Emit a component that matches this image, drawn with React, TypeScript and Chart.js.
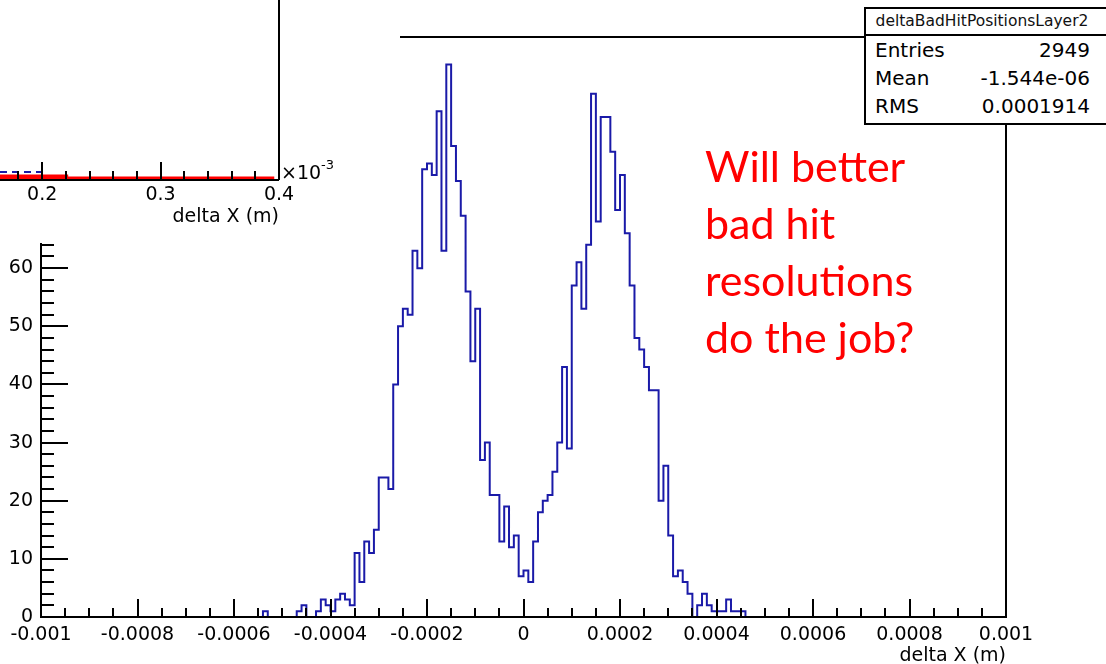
import React, { useEffect, useRef } from 'react';
import { Chart, registerables } from 'chart.js';

Chart.register(...registerables);

const FONT = "'DejaVu Sans', sans-serif";
const HIST_COLOR = '#1a1aa8';

// ---------- main histogram: deltaBadHitPositionsLayer2 (200 bins on [-0.001, 0.001]) ----------
const X_MIN = -0.001;
const X_MAX = 0.001;
const N_BINS = 200;
const FIRST_FILLED_BIN = 46;
const COUNTS_LEFT_TAIL = [1, 0, 0, 0, 0, 0, 0, 1, 2, 0, 0, 1, 3, 2, 1, 3, 4, 3, 2]; // bins 46..64
const COUNTS_LEFT_PEAK = [11, 6, 13, 11, 15, 24, 24, 22, 40, 50, 53, 52, 63, 60, 77, 78, 76, 87, 63, 95, 81, 75, 69, 56, 44, 53, 27, 30, 21, 21, 13, 19, 12, 14, 7]; // bins 65..99
const COUNTS_RIGHT_PEAK = [8, 6, 13, 18, 20, 21, 25, 30, 43, 29, 57, 61, 53, 64, 90, 68, 86, 86, 80, 70, 76, 66, 57, 48, 46, 43, 39, 39, 20, 26, 14, 7, 8, 6, 4]; // bins 100..134
const COUNTS_RIGHT_TAIL = [0, 2, 4, 2, 1, 1, 1, 3, 1, 1, 1]; // bins 135..145

const X_TICK_VALUES = [-0.001, -0.0008, -0.0006, -0.0004, -0.0002, 0, 0.0002, 0.0004, 0.0006, 0.0008, 0.001];
const X_TICK_LABELS = ['-0.001', '-0.0008', '-0.0006', '-0.0004', '-0.0002', '0', '0.0002', '0.0004', '0.0006', '0.0008', '0.001'];
const X_MINOR_STEP = 0.00005;
const Y_TICK_VALUES = [0, 10, 20, 30, 40, 50, 60, 70, 80, 90];
const Y_TICK_LABELS = ['0', '10', '20', '30', '40', '50', '60', '70', '80', '90'];
const Y_MINOR_STEP = 2;
const Y_MAX = 99.75;

// ---------- statistics box ----------
const STATS_TITLE = 'deltaBadHitPositionsLayer2';
const STATS_LABELS = ['Entries', 'Mean', 'RMS'];
const STATS_VALUES = ['2949', '-1.544e-06', '0.0001914'];

// ---------- inset (partial upper plot, x in units of 1e-3 m) ----------
const INSET_X_MIN = 0.1644;
const INSET_X_MAX = 0.4;
const INSET_TICK_VALUES = [0.2, 0.3, 0.4];
const INSET_TICK_LABELS = ['0.2', '0.3', '0.4'];
const INSET_MINOR_STEP = 0.02;
const INSET_BLUE_X = [0.1644, 0.2];
const INSET_BLUE_Y = [8, 8];
const INSET_RED_THICK_X = [0.1644, 0.222];
const INSET_RED_THICK_Y = [3.5, 3.5];
const INSET_RED_X = [0.1644, 0.396];
const INSET_RED_Y = [2, 2];

const NOTE_LINES = ['Will better', 'bad hit', 'resolutions', 'do the job?'];

const zip = (xs: number[], ys: number[]) => xs.map((x, i) => ({ x, y: ys[i] }));

const mainFramePlugin = {
  id: 'mainFrame',
  afterDatasetsDraw(chart: any) {
    const { ctx, chartArea: a } = chart;
    const xs = chart.scales.x;
    const ys = chart.scales.y;
    ctx.save();
    ctx.strokeStyle = '#000';
    ctx.lineWidth = 2;
    ctx.beginPath();
    const nx = Math.round((X_MAX - X_MIN) / X_MINOR_STEP);
    for (let k = 0; k <= nx; k++) {
      const v = X_MIN + k * X_MINOR_STEP;
      const len = k % 4 === 0 ? 18 : 9;
      const px = Math.round(xs.getPixelForValue(v));
      ctx.moveTo(px, a.bottom);
      ctx.lineTo(px, a.bottom - len);
    }
    const ny = Math.floor(Y_MAX / Y_MINOR_STEP);
    for (let k = 0; k <= ny; k++) {
      const v = k * Y_MINOR_STEP;
      const len = k % 5 === 0 ? 27 : 13;
      const py = Math.round(ys.getPixelForValue(v));
      ctx.moveTo(a.left, py);
      ctx.lineTo(a.left + len, py);
    }
    ctx.stroke();
    ctx.strokeRect(a.left, a.top, a.right - a.left, a.bottom - a.top);
    ctx.restore();
  },
};

const insetFramePlugin = {
  id: 'insetFrame',
  afterDatasetsDraw(chart: any) {
    const { ctx, chartArea: a } = chart;
    const xs = chart.scales.x;
    ctx.save();
    ctx.strokeStyle = '#000';
    ctx.lineWidth = 2;
    ctx.beginPath();
    const n = Math.floor((INSET_X_MAX - INSET_X_MIN) / INSET_MINOR_STEP + 1e-9);
    for (let k = 0; k <= n; k++) {
      const v = INSET_X_MAX - k * INSET_MINOR_STEP;
      const len = k % 5 === 0 ? 18 : 9;
      const px = Math.round(xs.getPixelForValue(v));
      ctx.moveTo(px, a.bottom);
      ctx.lineTo(px, a.bottom - len);
    }
    ctx.moveTo(a.left, a.bottom);
    ctx.lineTo(a.right, a.bottom);
    ctx.moveTo(a.right, a.bottom);
    ctx.lineTo(a.right, a.top);
    ctx.stroke();
    ctx.restore();
  },
};

export default function App() {
  const mainRef = useRef<HTMLCanvasElement>(null);
  const insetRef = useRef<HTMLCanvasElement>(null);

  useEffect(() => {
    document.body.style.margin = '0';
    const counts = new Array(N_BINS).fill(0);
    [...COUNTS_LEFT_TAIL, ...COUNTS_LEFT_PEAK, ...COUNTS_RIGHT_PEAK, ...COUNTS_RIGHT_TAIL].forEach((c, i) => {
      counts[FIRST_FILLED_BIN + i] = c;
    });
    const binW = (X_MAX - X_MIN) / N_BINS;
    const pts = counts.map((c, i) => ({ x: X_MIN + i * binW, y: c }));
    pts.push({ x: X_MAX, y: 0 });

    const tickFont = { family: FONT, size: 19 };

    const main = new Chart(mainRef.current as HTMLCanvasElement, {
      type: 'line',
      data: {
        datasets: [
          {
            data: pts,
            borderColor: HIST_COLOR,
            borderWidth: 2,
            pointRadius: 0,
            stepped: true,
            fill: false,
            tension: 0,
          },
        ],
      },
      options: {
        animation: false,
        responsive: false,
        maintainAspectRatio: false,
        layout: { padding: { left: 0, right: 100, top: 37, bottom: 0 } },
        plugins: { legend: { display: false }, tooltip: { enabled: false } },
        scales: {
          x: {
            type: 'linear',
            min: X_MIN,
            max: X_MAX,
            grid: { display: false, drawTicks: false },
            border: { display: false },
            afterBuildTicks: (s: any) => {
              s.ticks = X_TICK_VALUES.map((v) => ({ value: v }));
            },
            ticks: {
              autoSkip: false,
              maxRotation: 0,
              padding: 7,
              color: '#000',
              font: tickFont,
              callback: (_v: any, i: number) => X_TICK_LABELS[i],
            },
            title: {
              display: true,
              text: 'delta X (m)',
              align: 'end',
              color: '#000',
              font: { family: FONT, size: 19, lineHeight: 1 },
              padding: { top: 0, bottom: -2 },
            },
            afterFit: (s: any) => {
              s.height = 47;
            },
          },
          y: {
            type: 'linear',
            min: 0,
            max: Y_MAX,
            grid: { display: false, drawTicks: false },
            border: { display: false },
            afterBuildTicks: (s: any) => {
              s.ticks = Y_TICK_VALUES.map((v) => ({ value: v }));
            },
            ticks: {
              padding: 8,
              color: '#000',
              font: tickFont,
              callback: (_v: any, i: number) => Y_TICK_LABELS[i],
            },
            afterFit: (s: any) => {
              s.width = 41;
            },
          },
        },
      } as any,
      plugins: [mainFramePlugin],
    });

    const inset = new Chart(insetRef.current as HTMLCanvasElement, {
      type: 'line',
      data: {
        datasets: [
          { data: zip(INSET_RED_THICK_X, INSET_RED_THICK_Y), borderColor: '#ff0000', borderWidth: 4, pointRadius: 0, fill: false },
          { data: zip(INSET_RED_X, INSET_RED_Y), borderColor: '#ff0000', borderWidth: 3, pointRadius: 0, fill: false },
          { data: zip(INSET_BLUE_X, INSET_BLUE_Y), borderColor: HIST_COLOR, borderWidth: 2, borderDash: [7, 5], pointRadius: 0, fill: false },
        ],
      },
      options: {
        animation: false,
        responsive: false,
        maintainAspectRatio: false,
        layout: { padding: { left: 0, right: 121, top: 0, bottom: 0 } },
        plugins: { legend: { display: false }, tooltip: { enabled: false } },
        scales: {
          x: {
            type: 'linear',
            min: INSET_X_MIN,
            max: INSET_X_MAX,
            grid: { display: false, drawTicks: false },
            border: { display: false },
            afterBuildTicks: (s: any) => {
              s.ticks = INSET_TICK_VALUES.map((v) => ({ value: v }));
            },
            ticks: {
              autoSkip: false,
              maxRotation: 0,
              padding: 4,
              color: '#000',
              font: tickFont,
              callback: (_v: any, i: number) => INSET_TICK_LABELS[i],
            },
            title: {
              display: true,
              text: 'delta X (m)',
              align: 'end',
              color: '#000',
              font: { family: FONT, size: 19, lineHeight: 1 },
              padding: { top: 0, bottom: 16 },
            },
            afterFit: (s: any) => {
              s.height = 63;
            },
          },
          y: { display: false, min: 0, max: 180 },
        },
      } as any,
      plugins: [insetFramePlugin],
    });

    return () => {
      main.destroy();
      inset.destroy();
    };
  }, []);

  const statRowTop = [41, 69, 97];

  return (
    <div style={{ position: 'fixed', left: 0, top: 0, width: 1106, height: 664, overflow: 'hidden', background: '#fff' }}>
      <canvas ref={mainRef} width={1106} height={664} style={{ position: 'absolute', left: 0, top: 0 }} />
      <div
        style={{
          position: 'absolute',
          left: 705,
          top: 137,
          color: '#ff0000',
          fontFamily: 'Lato, sans-serif',
          fontSize: 43,
          lineHeight: '57px',
          whiteSpace: 'pre',
        }}
      >
        {NOTE_LINES.map((l) => (
          <div key={l}>{l}</div>
        ))}
      </div>
      <div
        style={{
          position: 'absolute',
          left: 864,
          top: 7,
          width: 260,
          height: 118,
          border: '2px solid #000',
          boxSizing: 'border-box',
          background: '#fff',
        }}
      />
      <div style={{ position: 'absolute', left: 864, top: 34, width: 260, height: 2, background: '#000' }} />
      <div
        style={{
          position: 'absolute',
          left: 864,
          top: 11,
          width: 236,
          textAlign: 'center',
          fontFamily: FONT,
          fontSize: 15.5,
          lineHeight: '20px',
          color: '#111',
          whiteSpace: 'pre',
        }}
      >
        {STATS_TITLE}
      </div>
      {STATS_LABELS.map((lab, i) => (
        <React.Fragment key={lab}>
          <div
            style={{
              position: 'absolute',
              left: 875,
              top: statRowTop[i],
              fontFamily: FONT,
              fontSize: 20,
              lineHeight: '19px',
              color: '#000',
              whiteSpace: 'pre',
            }}
          >
            {lab}
          </div>
          <div
            style={{
              position: 'absolute',
              left: 864,
              width: 226,
              top: statRowTop[i],
              textAlign: 'right',
              fontFamily: FONT,
              fontSize: 20,
              lineHeight: '19px',
              color: '#000',
              whiteSpace: 'pre',
            }}
          >
            {STATS_VALUES[i]}
          </div>
        </React.Fragment>
      ))}
      <canvas ref={insetRef} width={400} height={243} style={{ position: 'absolute', left: 0, top: 0, background: '#fff' }} />
      <div
        style={{
          position: 'absolute',
          left: 281,
          top: 163,
          fontFamily: FONT,
          fontSize: 19,
          lineHeight: '19px',
          color: '#000',
          whiteSpace: 'pre',
        }}
      >
        ×10
        <span style={{ fontSize: 13, position: 'relative', top: -10 }}>-3</span>
      </div>
    </div>
  );
}
